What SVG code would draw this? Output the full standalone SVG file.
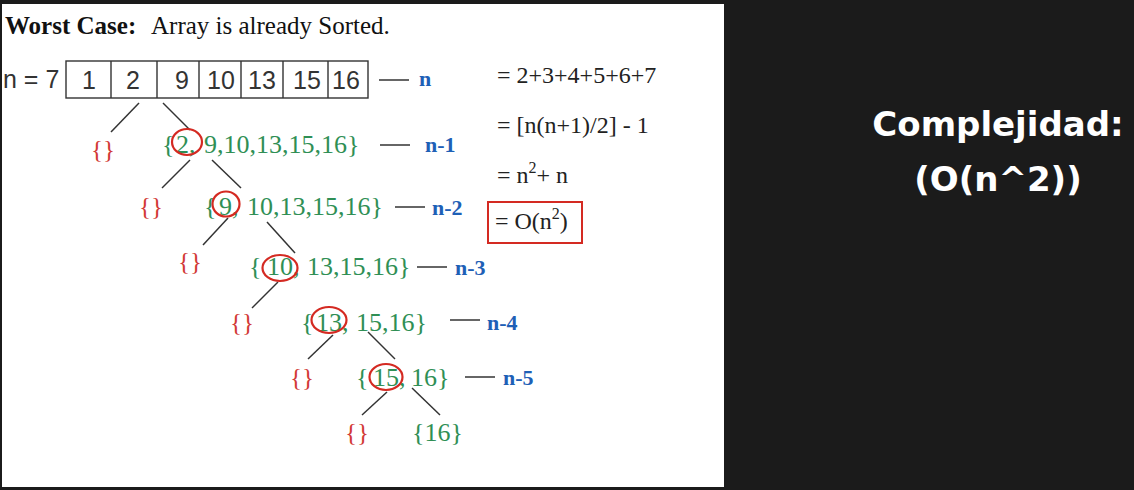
<svg xmlns="http://www.w3.org/2000/svg" width="1134" height="490" viewBox="0 0 1134 490">
  <style>
    .serif { font-family: "Liberation Serif", "Times New Roman", serif; }
    .sans { font-family: "Liberation Sans", Arial, sans-serif; }
    .title { font-size: 25px; fill: #111; }
    .arr { font-size: 25px; fill: #333; }
    .grn { font-family: "Liberation Serif", serif; font-size: 26px; fill: #2f8f55; }
    .red { font-family: "Liberation Serif", serif; font-size: 25px; fill: #d23a36; }
    .lvl { font-family: "Liberation Serif", serif; font-size: 22px; font-weight: bold; fill: #1e60b6; }
    .eq { font-family: "Liberation Serif", serif; font-size: 24px; fill: #222; }
    .edge { stroke: #333; stroke-width: 1.5; fill: none; }
    .dash { stroke: #333; stroke-width: 1.5; }
    .ring { stroke: #d42a22; stroke-width: 2.2; fill: none; }
    .cell { stroke: #333; stroke-width: 1.4; fill: none; }
    .big { font-family: "DejaVu Sans", sans-serif; font-weight: bold; font-size: 34px; fill: #ffffff; text-anchor: middle; }
  </style>
  <rect x="0" y="0" width="1134" height="490" fill="#1b1b1b"/>
  <rect x="2" y="4" width="722" height="483" fill="#ffffff"/>

  <g id="title">
    <text class="serif title" x="5" y="34"><tspan font-weight="bold">Worst Case:</tspan><tspan x="151">Array is already Sorted.</tspan></text>
  </g>

  <g id="array">
    <text class="sans arr" x="3" y="88">n = 7</text>
    <rect class="cell" x="66" y="61" width="302" height="37"/>
    <path class="cell" d="M111 61V98M157 61V98M199 61V98M241 61V98M283 61V98M328 61V98"/>
    <g class="sans arr" text-anchor="middle">
      <text x="89" y="89">1</text>
      <text x="133" y="89">2</text>
      <text x="182" y="89">9</text>
      <text x="221" y="89">10</text>
      <text x="262" y="89">13</text>
      <text x="307" y="89">15</text>
      <text x="346" y="89">16</text>
    </g>
    <line class="dash" x1="379" y1="80" x2="409" y2="80"/>
    <text class="lvl" x="419" y="86">n</text>
  </g>

  <g id="connectors">
    <line class="edge" x1="139" y1="103" x2="111" y2="132"/>
    <line class="edge" x1="163" y1="103" x2="190" y2="130"/>
    <line class="edge" x1="190" y1="160" x2="162" y2="188"/>
    <line class="edge" x1="212" y1="160" x2="241" y2="188"/>
    <line class="edge" x1="228" y1="218" x2="203" y2="245"/>
    <line class="edge" x1="267" y1="222" x2="295" y2="253"/>
    <line class="edge" x1="278" y1="282" x2="252" y2="308"/>
    <line class="edge" x1="333" y1="335" x2="308" y2="359"/>
    <line class="edge" x1="368" y1="332" x2="395" y2="359"/>
    <line class="edge" x1="387" y1="392" x2="362" y2="415"/>
    <line class="edge" x1="412" y1="388" x2="440" y2="415"/>
  </g>

  <g id="level1">
    <text class="red" x="91" y="158">{}</text>
    <text class="grn" y="153"><tspan x="162">{</tspan><tspan x="176">2,</tspan><tspan x="204">9,10,13,15,16}</tspan></text>
    <ellipse class="ring" cx="187" cy="142" rx="15" ry="13"/>
    <line class="dash" x1="380" y1="145" x2="410" y2="145"/>
    <text class="lvl" x="425" y="152">n-1</text>
  </g>

  <g id="level2">
    <text class="red" x="139" y="215">{}</text>
    <text class="grn" y="215"><tspan x="204">{</tspan><tspan x="219">9,</tspan><tspan x="247">10,13,15,16}</tspan></text>
    <ellipse class="ring" cx="226" cy="204" rx="13.5" ry="12.5"/>
    <line class="dash" x1="395" y1="207" x2="425" y2="207"/>
    <text class="lvl" x="432" y="215">n-2</text>
  </g>

  <g id="level3">
    <text class="red" x="178" y="270">{}</text>
    <text class="grn" y="275"><tspan x="249">{</tspan><tspan x="267">10,</tspan><tspan x="307">13,15,16}</tspan></text>
    <ellipse class="ring" cx="280" cy="268" rx="17.5" ry="13"/>
    <line class="dash" x1="417" y1="267" x2="447" y2="267"/>
    <text class="lvl" x="455" y="275">n-3</text>
  </g>

  <g id="level4">
    <text class="red" x="230" y="331">{}</text>
    <text class="grn" y="331"><tspan x="301">{</tspan><tspan x="316">13,</tspan><tspan x="356">15,16}</tspan></text>
    <ellipse class="ring" cx="329" cy="320" rx="17.5" ry="13"/>
    <line class="dash" x1="450" y1="320" x2="480" y2="320"/>
    <text class="lvl" x="487" y="330">n-4</text>
  </g>

  <g id="level5">
    <text class="red" x="290" y="386">{}</text>
    <text class="grn" y="386"><tspan x="356">{</tspan><tspan x="373">15,</tspan><tspan x="411">16}</tspan></text>
    <ellipse class="ring" cx="386" cy="377" rx="16.5" ry="13"/>
    <line class="dash" x1="465" y1="377" x2="495" y2="377"/>
    <text class="lvl" x="503" y="385">n-5</text>
  </g>

  <g id="level6">
    <text class="red" x="345" y="441">{}</text>
    <text class="grn" x="412" y="441">{16}</text>
  </g>

  <g id="formulas">
    <text class="eq" x="497" y="83">= 2+3+4+5+6+7</text>
    <text class="eq" x="497" y="133">= [n(n+1)/2] - 1</text>
    <text class="eq" x="497" y="183">= n<tspan font-size="16" dy="-10">2</tspan><tspan dy="10">+ n</tspan></text>
    <rect x="488" y="202" width="94" height="41" fill="none" stroke="#d42a22" stroke-width="2"/>
    <text class="eq" x="495" y="229">= O(n<tspan font-size="16" dy="-10">2</tspan><tspan dy="10">)</tspan></text>
  </g>

  <g id="complexity">
    <text class="big" x="998" y="136">Complejidad:</text>
    <text class="big" x="998" y="191">(O(n^2))</text>
  </g>
</svg>
